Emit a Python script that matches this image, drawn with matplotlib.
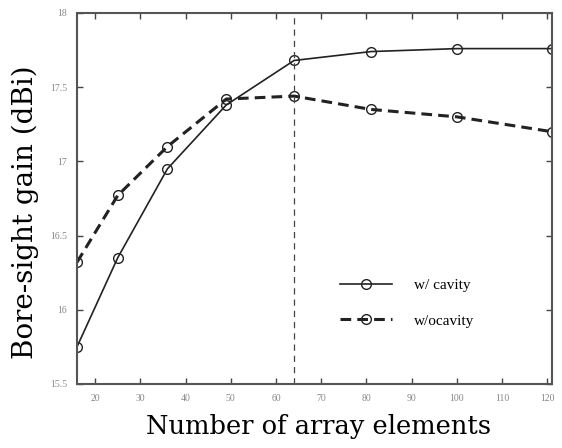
import numpy as np
import matplotlib.pyplot as plt

plt.rcParams['font.family'] = ['Liberation Serif', 'DejaVu Serif']

# number of array elements
n_elements = [16, 25, 36, 49, 64, 81, 100, 121]
gain_cavity = [15.75, 16.35, 16.95, 17.38, 17.68, 17.74, 17.76, 17.76]
gain_no_cavity = [16.32, 16.77, 17.10, 17.42, 17.44, 17.35, 17.30, 17.20]
marker_x = 64

x_ticks = [20, 30, 40, 50, 60, 70, 80, 90, 100, 110, 120]
y_ticks = [15.5, 16, 16.5, 17, 17.5, 18]
y_tick_labels = ['15.5', '16', '16.5', '17', '17.5', '18']

fig = plt.figure(figsize=(5.62, 4.48), dpi=100)
ax = fig.add_axes([0.137, 0.143, 0.845, 0.828])

ax.plot(n_elements, gain_cavity, '-o', color='#222222', linewidth=1.2,
        markersize=7, markerfacecolor='none', markeredgewidth=1.0, label='w/ cavity')
ax.plot(n_elements, gain_no_cavity, '--o', color='#222222', linewidth=2.2,
        dashes=(3.5, 2), markersize=7, markerfacecolor='none', markeredgewidth=1.0,
        label='w/ocavity')
ax.axvline(marker_x, color='#444444', linestyle='--', linewidth=0.9, dashes=(5, 4))

ax.set_xlim(16, 121)
ax.set_ylim(15.5, 18)
ax.set_xticks(x_ticks)
ax.set_yticks(y_ticks)
ax.set_yticklabels(y_tick_labels)
ax.tick_params(direction='in', top=True, right=True, length=4, width=1.0,
               labelsize=7, labelcolor='#888888', color='#444444', pad=7)
for sp in ax.spines.values():
    sp.set_linewidth(1.5)
    sp.set_color('#555555')

ax.set_xlabel('Number of array elements', fontsize=18.5, family='DejaVu Serif')
ax.set_ylabel('Bore-sight gain (dBi)', fontsize=20, family='DejaVu Serif')
ax.xaxis.set_label_coords(0.508, -0.082)
ax.yaxis.set_label_coords(-0.080, 0.464)

ax.legend(loc='lower right', bbox_to_anchor=(0.865, 0.115), frameon=False,
          fontsize=11, handlelength=3.4, labelspacing=1.4, handletextpad=1.4)

fig.savefig('out.png', dpi=100)
